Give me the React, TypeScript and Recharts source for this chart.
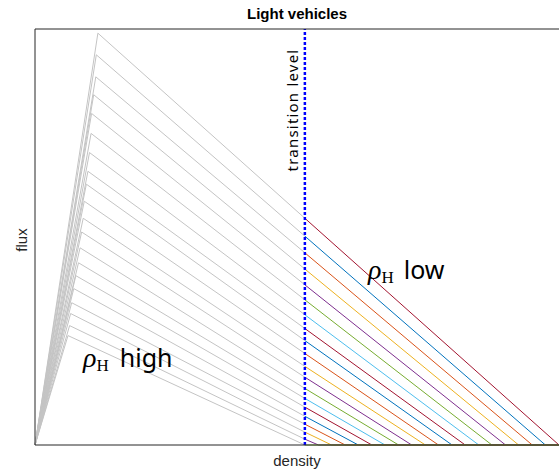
import React from 'react';
import { LineChart, Line, XAxis, YAxis, ReferenceLine } from 'recharts';

// Normalised density axis (0 .. jam density of the widest diagram)
const densityMax = 1;
const transitionDensity = 0.515;

// Triangular fundamental diagrams, listed from highest capacity to lowest
const criticalDensity = [0.120, 0.117, 0.116, 0.112, 0.108, 0.107, 0.104, 0.101, 0.098, 0.094, 0.092, 0.089, 0.086, 0.083, 0.078, 0.074, 0.070, 0.068, 0.066, 0.063];
const capacityFlux = [0.990, 0.938, 0.885, 0.842, 0.797, 0.749, 0.703, 0.658, 0.627, 0.586, 0.545, 0.512, 0.474, 0.438, 0.407, 0.376, 0.342, 0.316, 0.287, 0.263];
const transitionFlux = [0.545, 0.502, 0.462, 0.423, 0.385, 0.349, 0.313, 0.280, 0.251, 0.220, 0.189, 0.163, 0.136, 0.112, 0.091, 0.069, 0.050, 0.031, 0.014, 0.0];
const jamDensity = [1.000, 0.974, 0.949, 0.923, 0.898, 0.872, 0.847, 0.821, 0.796, 0.770, 0.745, 0.719, 0.694, 0.668, 0.643, 0.617, 0.592, 0.566, 0.541, 0.515];

const lowColors = ['#A2142F', '#0072BD', '#D95319', '#EDB120', '#7E2F8E', '#77AC30', '#4DBEEE'];
const highColor = '#c4c4c4';

// Part of each diagram below the transition level (grey)
const highBranches = criticalDensity.map((c, i) => [
  { x: 0, y: 0 },
  { x: c, y: capacityFlux[i] },
  { x: transitionDensity, y: transitionFlux[i] },
]);

// Part of each diagram above the transition level (coloured)
const lowBranches = jamDensity.map((e, i) => [
  { x: transitionDensity, y: transitionFlux[i] },
  { x: e, y: 0 },
  { x: densityMax, y: 0 },
]);

const sans = '"Liberation Sans", Arial, Helvetica, sans-serif';
const serif = '"Liberation Serif", "DejaVu Serif", serif';
const labelSans = '"Noto Sans", "Open Sans", sans-serif';
const frame = { stroke: '#262626', strokeWidth: 1 };

export default function App() {
  return (
    <div style={{ position: 'absolute', left: 0, top: 0, width: 559, height: 473, background: '#fff', overflow: 'hidden' }}>
      <LineChart width={560} height={473} margin={{ top: 0, right: 1, bottom: 0, left: 0 }}>
        <XAxis dataKey="x" type="number" domain={[0, densityMax]} tick={false} tickLine={false} height={28} axisLine={frame} />
        <XAxis xAxisId="top" orientation="top" dataKey="x" type="number" domain={[0, densityMax]} tick={false} tickLine={false} height={29} axisLine={frame} />
        <YAxis type="number" domain={[0, 1]} tick={false} tickLine={false} width={35} axisLine={frame} />
        {highBranches.map((d, i) => (
          <Line key={`h${i}`} data={d} dataKey="y" stroke={highColor} strokeWidth={1} dot={false} activeDot={false} isAnimationActive={false} />
        ))}
        {lowBranches.map((d, i) => (
          <Line key={`l${i}`} data={d} dataKey="y" stroke={lowColors[i % lowColors.length]} strokeWidth={1} dot={false} activeDot={false} isAnimationActive={false} />
        ))}
        <ReferenceLine x={transitionDensity} stroke="#0000ff" strokeWidth={2.5} strokeDasharray="3 2" />
      </LineChart>
      <svg width={559} height={473} style={{ position: 'absolute', left: 0, top: 0, pointerEvents: 'none' }}>
        <text x={297} y={19} textAnchor="middle" fontFamily={sans} fontWeight="bold" fontSize={15} fill="#000">Light vehicles</text>
        <text x={297} y={466} textAnchor="middle" fontFamily={sans} fontSize={15} fill="#262626">density</text>
        <text transform="translate(27,240) rotate(-90)" textAnchor="middle" fontFamily={sans} fontSize={15} fill="#262626">flux</text>
        <text transform="translate(298,110) rotate(-90)" textAnchor="middle" fontFamily={labelSans} fontSize={15} letterSpacing={1.2} fill="#000">transition level</text>
        <text x={83} y={367} fill="#000">
          <tspan fontFamily={serif} fontStyle="italic" fontSize={28}>ρ</tspan>
          <tspan fontFamily={serif} fontSize={17} dy={4}>H</tspan>
          <tspan fontFamily={labelSans} fontSize={25} dx={11} dy={-4}>high</tspan>
        </text>
        <text x={368} y={279} fill="#000">
          <tspan fontFamily={serif} fontStyle="italic" fontSize={28}>ρ</tspan>
          <tspan fontFamily={serif} fontSize={17} dy={4}>H</tspan>
          <tspan fontFamily={labelSans} fontSize={25} dx={10} dy={-4}>low</tspan>
        </text>
      </svg>
    </div>
  );
}
